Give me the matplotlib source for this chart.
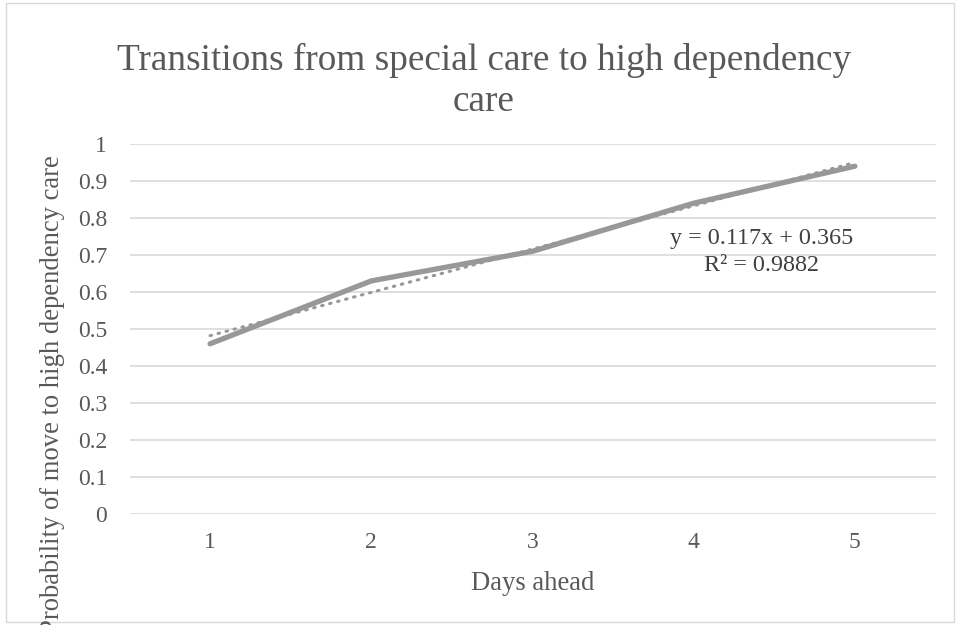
import numpy as np
import matplotlib
matplotlib.use("Agg")
import matplotlib.pyplot as plt
from matplotlib.patches import Rectangle

days = [1, 2, 3, 4, 5]
prob = [0.46, 0.63, 0.71, 0.84, 0.94]
yticks = [0, 0.1, 0.2, 0.3, 0.4, 0.5, 0.6, 0.7, 0.8, 0.9, 1]
ytick_labels = ["0", "0.1", "0.2", "0.3", "0.4", "0.5", "0.6", "0.7", "0.8", "0.9", "1"]

plt.rcParams['font.family'] = ['Liberation Serif', 'DejaVu Serif']

W, H = 958, 625
fig = plt.figure(figsize=(W / 100, H / 100), dpi=100)
fig.patches.append(Rectangle((6 / W, 3 / H), 948 / W, 619 / H, transform=fig.transFigure,
                             fill=False, edgecolor='#D9D9D9', linewidth=1))

ax = fig.add_axes([129.5 / W, 1 - 514 / H, 806 / W, 370 / H])
ax.set_xlim(0.5, 5.5)
ax.set_ylim(0, 1)

for s in ax.spines.values():
    s.set_visible(False)
ax.set_yticks(yticks)
ax.set_yticklabels(ytick_labels)
ax.set_xticks(days)
ax.set_xticklabels([str(d) for d in days])
ax.tick_params(axis='both', length=0, labelsize=17, colors='#595959')
ax.tick_params(axis='y', pad=16)
ax.tick_params(axis='x', pad=13)
ax.grid(axis='y', color='#D9D9D9', linewidth=1.2)
ax.set_axisbelow(True)

ax.plot(days, prob, color='#989898', linewidth=3.8, solid_capstyle='round', zorder=3)

coef = np.polyfit(days, prob, 1)
fit = np.polyval(coef, days)
ax.plot(days, fit, color='#989898', linewidth=2.2, linestyle=(0, (0.5, 2.2)),
        dash_capstyle='round', zorder=2)
r2 = 1 - np.sum((np.array(prob) - fit) ** 2) / np.sum((np.array(prob) - np.mean(prob)) ** 2)

fig.text(762 / W, 1 - 252 / H, "y = %.3fx + %.3f\nR² = %.4f" % (coef[0], coef[1], r2),
         ha='center', va='center', fontsize=17.4, color='#404040', linespacing=1.35)

fig.text(484 / W, 1 - 81 / H,
         "Transitions from special care to high dependency\ncare",
         ha='center', va='center', fontsize=26.8, color='#595959', linespacing=1.25)

fig.text(0.5 * (129.5 + 935.5) / W, 1 - 584 / H, "Days ahead", ha='center', va='center',
         fontsize=19.2, color='#595959')
fig.text(53 / W, 1 - 395 / H, "Probability of move to high dependency care", rotation=90,
         ha='center', va='center', fontsize=19.2, color='#595959')

fig.savefig("out.png", dpi=100)
